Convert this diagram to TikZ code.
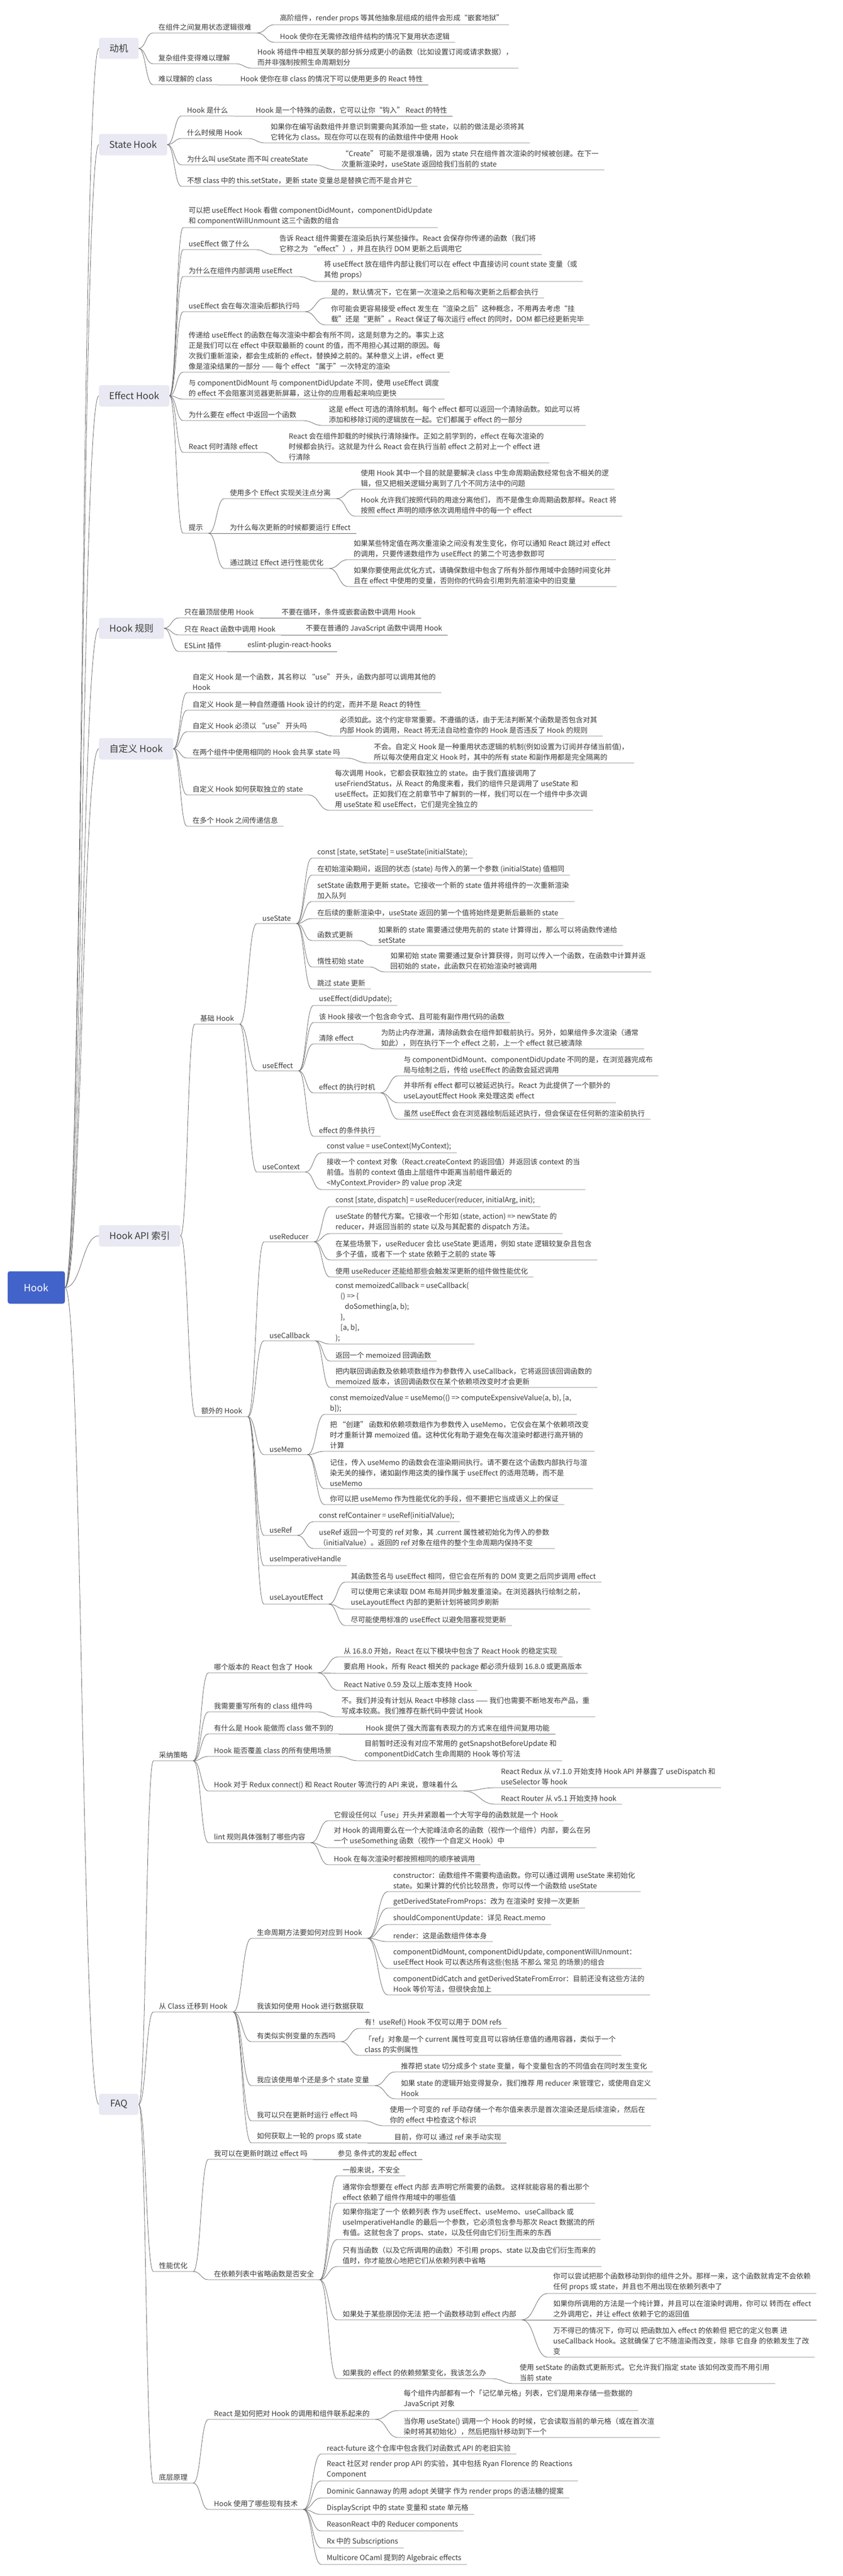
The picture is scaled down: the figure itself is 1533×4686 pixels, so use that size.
\documentclass[tikz,border=0pt]{standalone}
\usepackage{fontspec}
\setmainfont{Noto Sans CJK SC}
\usetikzlibrary{calc}
\definecolor{txt}{HTML}{3A3A3A}
\definecolor{linec}{HTML}{6E6E6E}
\definecolor{boxfill}{HTML}{E8E9F2}
\definecolor{rootfill}{HTML}{4263C9}
\tikzset{
  l1box/.style={fill=boxfill, rounded corners=4pt, font=\fontsize{17}{20}\selectfont, text=txt, inner sep=0pt},
  rootbox/.style={fill=rootfill, rounded corners=4pt, font=\fontsize{18}{21}\selectfont, text=white, inner sep=0pt},
  item/.style={font=\fontsize{13}{19}\selectfont, text=txt, align=left, inner xsep=10pt, inner ysep=4pt},
  conn/.style={draw=linec, line width=0.8pt},
}
% #1 name, #2 parent anchor, #3 text x, #4 underline y, #5 text
\newcommand\mmi[5]{%
  \node[item, anchor=south west] (#1) at (#3-10,#4) {#5};
  \draw[conn] (#2) .. controls ($(#2)!0.5!(#1.south west |- #2)$) and ($(#1.south west)!0.5!(#2 |- #1.south west)$) .. (#1.south west) -- (#1.south east);
}
\newcommand\rconn[1]{%
  \draw[conn] (root.east) .. controls ($(root.east)!0.5!(#1.west |- root.east)$) and ($(#1.west)!0.5!(root.east |- #1.west)$) .. (#1.west);
}
\begin{document}
\begin{tikzpicture}[x=1pt, y=-1pt]
\useasboundingbox[fill=white] (0,0) rectangle (1533,4686);

\node[rootbox, minimum width=104pt, minimum height=59pt] (root) at (66,2342) {Hook};

\node[l1box, minimum width=72pt, minimum height=38pt] (m1) at (216,88) {动机};
\node[l1box, minimum width=124pt, minimum height=39pt] (m2) at (242,263) {State Hook};
\node[l1box, minimum width=128pt, minimum height=39pt] (m3) at (244,720) {Effect Hook};
\node[l1box, minimum width=118pt, minimum height=38pt] (m4) at (239,1143) {Hook 规则};
\node[l1box, minimum width=135pt, minimum height=39pt] (m5) at (247.5,1362) {自定义 Hook};
\node[l1box, minimum width=148pt, minimum height=39pt] (m6) at (254,2248) {Hook API 索引};
\node[l1box, minimum width=72pt, minimum height=38pt] (m7) at (216,3828) {FAQ};
\rconn{m1}\rconn{m2}\rconn{m3}\rconn{m4}\rconn{m5}\rconn{m6}\rconn{m7}

% 动机
\mmi{a1}{m1.east}{288}{60}{在组件之间复用状态逻辑很难}
\mmi{a1a}{a1.south east}{509}{45}{高阶组件，render props 等其他抽象层组成的组件会形成“嵌套地狱”}
\mmi{a1b}{a1.south east}{509}{77}{Hook 使你在无需修改组件结构的情况下复用状态逻辑}
\mmi{a2}{m1.east}{288}{116}{复杂组件变得难以理解}
\mmi{a2a}{a2.south east}{468}{124}{Hook 将组件中相互关联的部分拆分成更小的函数（比如设置订阅或请求数据），\\而并非强制按照生命周期划分}
\mmi{a3}{m1.east}{288}{154}{难以理解的 class}
\mmi{a3a}{a3.south east}{437}{154}{Hook 使你在非 class 的情况下可以使用更多的 React 特性}

% State Hook
\mmi{b1}{m2.east}{340}{211}{Hook 是什么}
\mmi{b1a}{b1.south east}{465}{211}{Hook 是一个特殊的函数，它可以让你“钩入” React 的特性}
\mmi{b2}{m2.east}{340}{252}{什么时候用 Hook}
\mmi{b2a}{b2.south east}{492}{260}{如果你在编写函数组件并意识到需要向其添加一些 state，以前的做法是必须将其\\它转化为 class。现在你可以在现有的函数组件中使用 Hook}
\mmi{b3}{m2.east}{340}{300}{为什么叫 useState 而不叫 createState}
\mmi{b3a}{b3.south east}{621}{309}{“Create” 可能不是很准确，因为 state 只在组件首次渲染的时候被创建。在下一\\次重新渲染时，useState 返回给我们当前的 state}
\mmi{b4}{m2.east}{340}{339}{不想 class 中的 this.setState，更新 state 变量总是替换它而不是合并它}

% Effect Hook
\mmi{c1}{m3.east}{343}{414}{可以把 useEffect Hook 看做 componentDidMount，componentDidUpdate\\和 componentWillUnmount 这三个函数的组合}
\mmi{c2}{m3.east}{343}{454}{useEffect 做了什么}
\mmi{c2a}{c2.south east}{508}{463}{告诉 React 组件需要在渲染后执行某些操作。React 会保存你传递的函数（我们将\\它称之为 “effect”），并且在执行 DOM 更新之后调用它}
\mmi{c3}{m3.east}{343}{503}{为什么在组件内部调用 useEffect}
\mmi{c3a}{c3.south east}{589}{512}{将 useEffect 放在组件内部让我们可以在 effect 中直接访问 count state 变量（或\\其他 props）}
\mmi{c4}{m3.east}{343}{567}{useEffect 会在每次渲染后都执行吗}
\mmi{c4a}{c4.south east}{602}{542}{是的，默认情况下，它在第一次渲染之后和每次更新之后都会执行}
\mmi{c4b}{c4.south east}{602}{591}{你可能会更容易接受 effect 发生在“渲染之后”这种概念，不用再去考虑“挂\\载”还是“更新”。React 保证了每次运行 effect 的同时，DOM 都已经更新完毕}
\mmi{c5}{m3.east}{343}{677}{传递给 useEffect 的函数在每次渲染中都会有所不同，这是刻意为之的。事实上这\\正是我们可以在 effect 中获取最新的 count 的值，而不用担心其过期的原因。每\\次我们重新渲染，都会生成新的 effect，替换掉之前的。某种意义上讲，effect 更\\像是渲染结果的一部分 —— 每个 effect “属于”一次特定的渲染}
\mmi{c6}{m3.east}{343}{726}{与 componentDidMount 与 componentDidUpdate 不同，使用 useEffect 调度\\的 effect 不会阻塞浏览器更新屏幕，这让你的应用看起来响应更快}
\mmi{c7}{m3.east}{343}{765}{为什么要在 effect 中返回一个函数}
\mmi{c7a}{c7.south east}{598}{774}{这是 effect 可选的清除机制。每个 effect 都可以返回一个清除函数。如此可以将\\添加和移除订阅的逻辑放在一起。它们都属于 effect 的一部分}
\mmi{c8}{m3.east}{343}{823}{React 何时清除 effect}
\mmi{c8a}{c8.south east}{525}{842}{React 会在组件卸载的时候执行清除操作。正如之前学到的，effect 在每次渲染的\\时候都会执行。这就是为什么 React 会在执行当前 effect 之前对上一个 effect 进\\行清除}
\mmi{c9}{m3.east}{343}{970}{提示}
\mmi{c9a}{c9.south east}{418}{907}{使用多个 Effect 实现关注点分离}
\mmi{c9a1}{c9a.south east}{656}{890}{使用 Hook 其中一个目的就是要解决 class 中生命周期函数经常包含不相关的逻\\辑，但又把相关逻辑分离到了几个不同方法中的问题}
\mmi{c9a2}{c9a.south east}{656}{939}{Hook 允许我们按照代码的用途分离他们， 而不是像生命周期函数那样。React 将\\按照 effect 声明的顺序依次调用组件中的每一个 effect}
\mmi{c9b}{c9.south east}{418}{970}{为什么每次更新的时候都要运行 Effect}
\mmi{c9c}{c9.south east}{418}{1034}{通过跳过 Effect 进行性能优化}
\mmi{c9c1}{c9c.south east}{643}{1018}{如果某些特定值在两次重渲染之间没有发生变化，你可以通知 React 跳过对 effect\\的调用，只要传递数组作为 useEffect 的第二个可选参数即可}
\mmi{c9c2}{c9c.south east}{643}{1067}{如果你要使用此优化方式，请确保数组中包含了所有外部作用域中会随时间变化并\\且在 effect 中使用的变量，否则你的代码会引用到先前渲染中的旧变量}

% Hook 规则
\mmi{d1}{m4.east}{335}{1124}{只在最顶层使用 Hook}
\mmi{d1a}{d1.south east}{512}{1124}{不要在循环，条件或嵌套函数中调用 Hook}
\mmi{d2}{m4.east}{335}{1155}{只在 React 函数中调用 Hook}
\mmi{d2a}{d2.south east}{556}{1155}{不要在普通的 JavaScript 函数中调用 Hook}
\mmi{d3}{m4.east}{335}{1185}{ESLint 插件}
\mmi{d3a}{d3.south east}{450}{1185}{eslint-plugin-react-hooks}

% 自定义 Hook
\mmi{e1}{m5.east}{350}{1260}{自定义 Hook 是一个函数，其名称以 “use” 开头，函数内部可以调用其他的\\Hook}
\mmi{e2}{m5.east}{350}{1292}{自定义 Hook 是一种自然遵循 Hook 设计的约定，而并不是 React 的特性}
\mmi{e3}{m5.east}{350}{1331}{自定义 Hook 必须以 “use” 开头吗}
\mmi{e3a}{e3.south east}{618}{1339}{必须如此。这个约定非常重要。不遵循的话，由于无法判断某个函数是否包含对其\\内部 Hook 的调用，React 将无法自动检查你的 Hook 是否违反了 Hook 的规则}
\mmi{e4}{m5.east}{350}{1379}{在两个组件中使用相同的 Hook 会共享 state 吗}
\mmi{e4a}{e4.south east}{680}{1388}{不会。自定义 Hook 是一种重用状态逻辑的机制(例如设置为订阅并存储当前值)，\\所以每次使用自定义 Hook 时，其中的所有 state 和副作用都是完全隔离的}
\mmi{e5}{m5.east}{350}{1446}{自定义 Hook 如何获取独立的 state}
\mmi{e5a}{e5.south east}{609}{1474}{每次调用 Hook，它都会获取独立的 state。由于我们直接调用了\\useFriendStatus，从 React 的角度来看，我们的组件只是调用了 useState 和\\useEffect。正如我们在之前章节中了解到的一样，我们可以在一个组件中多次调\\用 useState 和 useEffect，它们是完全独立的}
\mmi{e6}{m5.east}{350}{1503}{在多个 Hook 之间传递信息}

% Hook API 索引
\mmi{f1}{m6.east}{364}{1863}{基础 Hook}
\mmi{f1a}{f1.south east}{477}{1680}{useState}
\mmi{f1a1}{f1a.south east}{577}{1561}{const [state, setState] = useState(initialState);}
\mmi{f1a2}{f1a.south east}{577}{1592}{在初始渲染期间，返回的状态 (state) 与传入的第一个参数 (initialState) 值相同}
\mmi{f1a3}{f1a.south east}{577}{1640}{setState 函数用于更新 state。它接收一个新的 state 值并将组件的一次重新渲染\\加入队列}
\mmi{f1a4}{f1a.south east}{577}{1671}{在后续的重新渲染中，useState 返回的第一个值将始终是更新后最新的 state}
\mmi{f1a5}{f1a.south east}{577}{1711}{函数式更新}
\mmi{f1a5a}{f1a5.south east}{688}{1720}{如果新的 state 需要通过使用先前的 state 计算得出，那么可以将函数传递给\\setState}
\mmi{f1a6}{f1a.south east}{577}{1759}{惰性初始 state}
\mmi{f1a6a}{f1a6.south east}{710}{1768}{如果初始 state 需要通过复杂计算获得，则可以传入一个函数，在函数中计算并返\\回初始的 state，此函数只在初始渲染时被调用}
\mmi{f1a7}{f1a.south east}{577}{1799}{跳过 state 更新}
\mmi{f1b}{f1.south east}{477}{1948}{useEffect}
\mmi{f1b1}{f1b.south east}{580}{1829}{useEffect(didUpdate);}
\mmi{f1b2}{f1b.south east}{580}{1860}{该 Hook 接收一个包含命令式、且可能有副作用代码的函数}
\mmi{f1b3}{f1b.south east}{580}{1899}{清除 effect}
\mmi{f1b3a}{f1b3.south east}{693}{1908}{为防止内存泄漏，清除函数会在组件卸载前执行。另外，如果组件多次渲染（通常\\如此），则在执行下一个 effect 之前，上一个 effect 就已被清除}
\mmi{f1b4}{f1b.south east}{580}{1988}{effect 的执行时机}
\mmi{f1b4a}{f1b4.south east}{734}{1957}{与 componentDidMount、componentDidUpdate 不同的是，在浏览器完成布\\局与绘制之后，传给 useEffect 的函数会延迟调用}
\mmi{f1b4b}{f1b4.south east}{734}{2006}{并非所有 effect 都可以被延迟执行。React 为此提供了一个额外的\\useLayoutEffect Hook 来处理这类 effect}
\mmi{f1b4c}{f1b4.south east}{734}{2036}{虽然 useEffect 会在浏览器绘制后延迟执行，但会保证在任何新的渲染前执行}
\mmi{f1b5}{f1b.south east}{580}{2067}{effect 的条件执行}
\mmi{f1c}{f1.south east}{477}{2132}{useContext}
\mmi{f1c1}{f1c.south east}{594}{2097}{const value = useContext(MyContext);}
\mmi{f1c2}{f1c.south east}{594}{2164}{接收一个 context 对象（React.createContext 的返回值）并返回该 context 的当\\前值。当前的 context 值由上层组件中距离当前组件最近的\\<MyContext.Provider> 的 value prop 决定}

\mmi{f2}{m6.east}{366}{2577}{额外的 Hook}
\mmi{f2a}{f2.south east}{490}{2259}{useReducer}
\mmi{f2a1}{f2a.south east}{610}{2195}{const [state, dispatch] = useReducer(reducer, initialArg, init);}
\mmi{f2a2}{f2a.south east}{610}{2244}{useState 的替代方案。它接收一个形如 (state, action) => newState 的\\reducer，并返回当前的 state 以及与其配套的 dispatch 方法。}
\mmi{f2a3}{f2a.south east}{610}{2292}{在某些场景下，useReducer 会比 useState 更适用，例如 state 逻辑较复杂且包含\\多个子值，或者下一个 state 依赖于之前的 state 等}
\mmi{f2a4}{f2a.south east}{610}{2323}{使用 useReducer 还能给那些会触发深更新的组件做性能优化}
\mmi{f2b}{f2.south east}{490}{2439}{useCallback}
\mmi{f2b1}{f2b.south east}{610}{2445}{const memoizedCallback = useCallback(\\\hspace*{9pt}() => \{\\\hspace*{17pt}doSomething(a, b);\\\hspace*{9pt}\},\\\hspace*{9pt}[a, b],\\);}
\mmi{f2b2}{f2b.south east}{610}{2476}{返回一个 memoized 回调函数}
\mmi{f2b3}{f2b.south east}{610}{2524}{把内联回调函数及依赖项数组作为参数传入 useCallback，它将返回该回调函数的\\memoized 版本，该回调函数仅在某个依赖项改变时才会更新}
\mmi{f2c}{f2.south east}{490}{2646}{useMemo}
\mmi{f2c1}{f2c.south east}{600}{2573}{const memoizedValue = useMemo(() => computeExpensiveValue(a, b), [a,\\b]);}
\mmi{f2c2}{f2c.south east}{600}{2640}{把 “创建” 函数和依赖项数组作为参数传入 useMemo，它仅会在某个依赖项改变\\时才重新计算 memoized 值。这种优化有助于避免在每次渲染时都进行高开销的\\计算}
\mmi{f2c3}{f2c.south east}{600}{2708}{记住，传入 useMemo 的函数会在渲染期间执行。请不要在这个函数内部执行与渲\\染无关的操作，诸如副作用这类的操作属于 useEffect 的适用范畴，而不是\\useMemo}
\mmi{f2c4}{f2c.south east}{600}{2737}{你可以把 useMemo 作为性能优化的手段，但不要把它当成语义上的保证}
\mmi{f2d}{f2.south east}{490}{2793}{useRef}
\mmi{f2d1}{f2d.south east}{580}{2768}{const refContainer = useRef(initialValue);}
\mmi{f2d2}{f2d.south east}{580}{2817}{useRef 返回一个可变的 ref 对象，其 .current 属性被初始化为传入的参数\\（initialValue）。返回的 ref 对象在组件的整个生命周期内保持不变}
\mmi{f2e}{f2.south east}{490}{2848}{useImperativeHandle}
\mmi{f2f}{f2.south east}{490}{2918}{useLayoutEffect}
\mmi{f2f1}{f2f.south east}{638}{2878}{其函数签名与 useEffect 相同，但它会在所有的 DOM 变更之后同步调用 effect}
\mmi{f2f2}{f2f.south east}{638}{2927}{可以使用它来读取 DOM 布局并同步触发重渲染。在浏览器执行绘制之前，\\useLayoutEffect 内部的更新计划将被同步刷新}
\mmi{f2f3}{f2f.south east}{638}{2957}{尽可能使用标准的 useEffect 以避免阻塞视觉更新}

% FAQ
\mmi{g1}{m7.east}{289}{3203}{采纳策略}
\mmi{g1a}{g1.south east}{389}{3043}{哪个版本的 React 包含了 Hook}
\mmi{g1a1}{g1a.south east}{625}{3014}{从 16.8.0 开始，React 在以下模块中包含了 React Hook 的稳定实现}
\mmi{g1a2}{g1a.south east}{625}{3044}{要启用 Hook，所有 React 相关的 package 都必须升级到 16.8.0 或更高版本}
\mmi{g1a3}{g1a.south east}{625}{3075}{React Native 0.59 及以上版本支持 Hook}
\mmi{g1b}{g1.south east}{389}{3114}{我需要重写所有的 class 组件吗}
\mmi{g1b1}{g1b.south east}{621}{3123}{不。我们并没有计划从 React 中移除 class —— 我们也需要不断地发布产品，重\\写成本较高。我们推荐在新代码中尝试 Hook}
\mmi{g1c}{g1.south east}{389}{3154}{有什么是 Hook 能做而 class 做不到的}
\mmi{g1c1}{g1c.south east}{665}{3154}{Hook 提供了强大而富有表现力的方式来在组件间复用功能}
\mmi{g1d}{g1.south east}{389}{3195}{Hook 能否覆盖 class 的所有使用场景}
\mmi{g1d1}{g1d.south east}{663}{3203}{目前暂时还没有对应不常用的 getSnapshotBeforeUpdate 和\\componentDidCatch 生命周期的 Hook 等价写法}
\mmi{g1e}{g1.south east}{389}{3258}{Hook 对于 Redux connect() 和 React Router 等流行的 API 来说，意味着什么}
\mmi{g1e1}{g1e.south east}{911}{3252}{React Redux 从 v7.1.0 开始支持 Hook API 并暴露了 useDispatch 和\\useSelector 等 hook}
\mmi{g1e2}{g1e.south east}{911}{3282}{React Router 从 v5.1 开始支持 hook}
\mmi{g1f}{g1.south east}{389}{3352}{lint 规则具体强制了哪些内容}
\mmi{g1f1}{g1f.south east}{607}{3312}{它假设任何以「use」开头并紧跟着一个大写字母的函数就是一个 Hook}
\mmi{g1f2}{g1f.south east}{607}{3361}{对 Hook 的调用要么在一个大驼峰法命名的函数（视作一个组件）内部，要么在另\\一个 useSomething 函数（视作一个自定义 Hook）中}
\mmi{g1f3}{g1f.south east}{607}{3392}{Hook 在每次渲染时都按照相同的顺序被调用}

\mmi{g2}{m7.east}{289}{3660}{从 Class 迁移到 Hook}
\mmi{g2a}{g2.south east}{467}{3526}{生命周期方法要如何对应到 Hook}
\mmi{g2a1}{g2a.south east}{715}{3441}{constructor：函数组件不需要构造函数。你可以通过调用 useState 来初始化\\state。如果计算的代价比较昂贵，你可以传一个函数给 useState}
\mmi{g2a2}{g2a.south east}{715}{3471}{getDerivedStateFromProps：改为 在渲染时 安排一次更新}
\mmi{g2a3}{g2a.south east}{715}{3501}{shouldComponentUpdate：详见 React.memo}
\mmi{g2a4}{g2a.south east}{715}{3532}{render：这是函数组件体本身}
\mmi{g2a5}{g2a.south east}{715}{3581}{componentDidMount, componentDidUpdate, componentWillUnmount：\\useEffect Hook 可以表达所有这些(包括 不那么 常见 的场景)的组合}
\mmi{g2a6}{g2a.south east}{715}{3629}{componentDidCatch and getDerivedStateFromError：目前还没有这些方法的\\Hook 等价写法，但很快会加上}
\mmi{g2b}{g2.south east}{467}{3660}{我该如何使用 Hook 进行数据获取}
\mmi{g2c}{g2.south east}{467}{3714}{有类似实例变量的东西吗}
\mmi{g2c1}{g2c.south east}{663}{3690}{有！useRef() Hook 不仅可以用于 DOM refs}
\mmi{g2c2}{g2c.south east}{663}{3739}{「ref」对象是一个 current 属性可变且可以容纳任意值的通用容器，类似于一个\\class 的实例属性}
\mmi{g2d}{g2.south east}{467}{3794}{我应该使用单个还是多个 state 变量}
\mmi{g2d1}{g2d.south east}{729}{3769}{推荐把 state 切分成多个 state 变量，每个变量包含的不同值会在同时发生变化}
\mmi{g2d2}{g2d.south east}{729}{3818}{如果 state 的逻辑开始变得复杂，我们推荐 用 reducer 来管理它，或使用自定义\\Hook}
\mmi{g2e}{g2.south east}{467}{3858}{我可以只在更新时运行 effect 吗}
\mmi{g2e1}{g2e.south east}{709}{3867}{使用一个可变的 ref 手动存储一个布尔值来表示是首次渲染还是后续渲染，然后在\\你的 effect 中检查这个标识}
\mmi{g2f}{g2.south east}{467}{3898}{如何获取上一轮的 props 或 state}
\mmi{g2f1}{g2f.south east}{717}{3898}{目前，你可以 通过 ref 来手动实现}

\mmi{g3}{m7.east}{289}{4132}{性能优化}
\mmi{g3a}{g3.south east}{389}{3928}{我可以在更新时跳过 effect 吗}
\mmi{g3a1}{g3a.south east}{614}{3928}{参见 条件式的发起 effect}
\mmi{g3b}{g3.south east}{389}{4147}{在依赖列表中省略函数是否安全}
\mmi{g3b1}{g3b.south east}{623}{3958}{一般来说，不安全}
\mmi{g3b2}{g3b.south east}{623}{4008}{通常你会想要在 effect 内部 去声明它所需要的函数。 这样就能容易的看出那个\\effect 依赖了组件作用域中的哪些值}
\mmi{g3b3}{g3b.south east}{623}{4074}{如果你指定了一个 依赖列表 作为 useEffect、useMemo、useCallback 或\\useImperativeHandle 的最后一个参数，它必须包含参与那次 React 数据流的所\\有值。这就包含了 props、state，以及任何由它们衍生而来的东西}
\mmi{g3b4}{g3b.south east}{623}{4123}{只有当函数（以及它所调用的函数）不引用 props、state 以及由它们衍生而来的\\值时，你才能放心地把它们从依赖列表中省略}
\mmi{g3b5}{g3b.south east}{623}{4220}{如果处于某些原因你无法 把一个函数移动到 effect 内部}
\mmi{g3b5a}{g3b5.south east}{1006}{4172}{你可以尝试把那个函数移动到你的组件之外。那样一来，这个函数就肯定不会依赖\\任何 props 或 state，并且也不用出现在依赖列表中了}
\mmi{g3b5b}{g3b5.south east}{1006}{4220}{如果你所调用的方法是一个纯计算，并且可以在渲染时调用，你可以 转而在 effect\\之外调用它，并让 effect 依赖于它的返回值}
\mmi{g3b5c}{g3b5.south east}{1006}{4288}{万不得已的情况下，你可以 把函数加入 effect 的依赖但 把它的定义包裹 进\\useCallback Hook。这就确保了它不随渲染而改变，除非 它自身 的依赖发生了改\\变}
\mmi{g3b6}{g3b.south east}{623}{4327}{如果我的 effect 的依赖频繁变化，我该怎么办}
\mmi{g3b6a}{g3b6.south east}{945}{4336}{使用 setState 的函数式更新形式。它允许我们指定 state 该如何改变而不用引用\\当前 state}

\mmi{g4}{m7.east}{289}{4517}{底层原理}
\mmi{g4a}{g4.south east}{389}{4401}{React 是如何把对 Hook 的调用和组件联系起来的}
\mmi{g4a1}{g4a.south east}{734}{4385}{每个组件内部都有一个「记忆单元格」列表，它们是用来存储一些数据的\\JavaScript 对象}
\mmi{g4a2}{g4a.south east}{734}{4434}{当你用 useState() 调用一个 Hook 的时候，它会读取当前的单元格（或在首次渲\\染时将其初始化），然后把指针移动到下一个}
\mmi{g4b}{g4.south east}{389}{4565}{Hook 使用了哪些现有技术}
\mmi{g4b1}{g4b.south east}{594}{4464}{react-future 这个仓库中包含我们对函数式 API 的老旧实验}
\mmi{g4b2}{g4b.south east}{594}{4513}{React 社区对 render prop API 的实验，其中包括 Ryan Florence 的 Reactions\\Component}
\mmi{g4b3}{g4b.south east}{594}{4544}{Dominic Gannaway 的用 adopt 关键字 作为 render props 的语法糖的提案}
\mmi{g4b4}{g4b.south east}{594}{4574}{DisplayScript 中的 state 变量和 state 单元格}
\mmi{g4b5}{g4b.south east}{594}{4604}{ReasonReact 中的 Reducer components}
\mmi{g4b6}{g4b.south east}{594}{4635}{Rx 中的 Subscriptions}
\mmi{g4b7}{g4b.south east}{594}{4665}{Multicore OCaml 提到的 Algebraic effects}
\end{tikzpicture}
\end{document}
